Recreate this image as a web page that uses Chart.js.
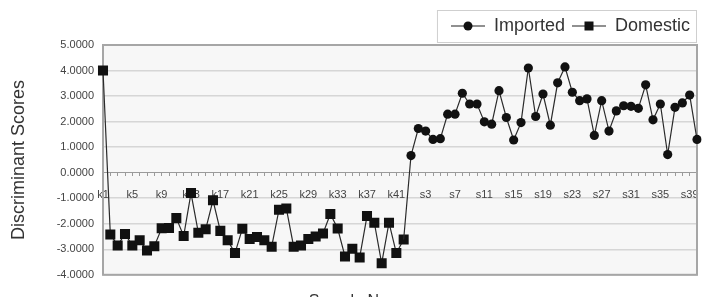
<!DOCTYPE html>
<html>
<head>
<meta charset="utf-8">
<script src="https://cdn.jsdelivr.net/npm/chart.js@4"></script>
<style>
  html, body { margin: 0; padding: 0; background: #fff; overflow: hidden; }
  #wrap { width: 710px; height: 311px; }
</style>
</head>
<body>
<div id="wrap"><canvas id="myChart" width="710" height="311"></canvas></div>
<script>
// sample ids
const domesticIds = [];
for (let i = 1; i <= 42; i++) domesticIds.push("k" + i);
const importedIds = [];
for (let i = 1; i <= 40; i++) importedIds.push("s" + i);
const labels = domesticIds.concat(importedIds);

// discriminant scores
const domestic = [
  4.00, -2.42, -2.85, -2.40, -2.85, -2.65, -3.05, -2.88, -2.18, -2.17,
  -1.78, -2.48, -0.80, -2.35, -2.22, -1.08, -2.28, -2.65, -3.15, -2.20,
  -2.60, -2.52, -2.65, -2.90, -1.45, -1.40, -2.90, -2.85, -2.60, -2.50,
  -2.38, -1.62, -2.19, -3.28, -2.98, -3.32, -1.70, -1.96, -3.55, -1.96,
  -3.15, -2.62
];
const imported = [
  0.67, 1.73, 1.63, 1.30, 1.33, 2.29, 2.29, 3.11, 2.69, 2.69,
  1.99, 1.90, 3.21, 2.16, 1.28, 1.96, 4.10, 2.20, 3.08, 1.86,
  3.52, 4.14, 3.15, 2.82, 2.89, 1.46, 2.82, 1.63, 2.42, 2.62,
  2.60, 2.52, 3.44, 2.07, 2.69, 0.71, 2.56, 2.73, 3.04, 1.30
];
const yTicks = [-4, -3, -2, -1, 0, 1, 2, 3, 4, 5];

const nK = domestic.length;
const domesticData = labels.map((l, i) => (i < nK ? domestic[i] : null));
// imported line starts from the last domestic point (joined in the original)
const importedData = labels.map((l, i) =>
  i < nK - 1 ? null : i === nK - 1 ? domestic[nK - 1] : imported[i - nK]
);

// legend icons: short line with a marker
function legendIcon(shape) {
  const c = document.createElement("canvas");
  c.width = 34;
  c.height = 12;
  const g = c.getContext("2d");
  g.strokeStyle = "#222";
  g.lineWidth = 1.2;
  g.beginPath();
  g.moveTo(0, 6);
  g.lineTo(34, 6);
  g.stroke();
  g.fillStyle = "#111";
  if (shape === "circle") {
    g.beginPath();
    g.arc(17, 6, 4.5, 0, Math.PI * 2);
    g.fill();
  } else {
    g.fillRect(12.5, 1.5, 9, 9);
  }
  return c;
}
const icons = { Imported: legendIcon("circle"), Domestic: legendIcon("rect") };

const plotFrame = {
  id: "plotFrame",
  beforeDraw(chart) {
    const { ctx, chartArea: a } = chart;
    ctx.save();
    ctx.fillStyle = "#f7f7f7";
    ctx.fillRect(a.left, a.top, a.right - a.left, a.bottom - a.top);
    ctx.restore();
  },
  beforeDatasetsDraw(chart) {
    const { ctx, chartArea: a } = chart;
    ctx.save();
    ctx.strokeStyle = "#a6a6a6";
    ctx.lineWidth = 2;
    ctx.strokeRect(a.left, a.top, a.right - a.left, a.bottom - a.top);
    ctx.restore();
  },
  afterDraw(chart) {
    const lg = chart.legend;
    if (!lg || !lg.legendHitBoxes.length) return;
    const boxes = lg.legendHitBoxes;
    const left = boxes[0].left - 14;
    const right = boxes[boxes.length - 1].left + boxes[boxes.length - 1].width + 6;
    const mid = boxes[0].top + boxes[0].height / 2;
    const { ctx } = chart;
    ctx.save();
    ctx.strokeStyle = "#cfcfcf";
    ctx.lineWidth = 1;
    ctx.strokeRect(left + 0.5, Math.round(mid - 16) + 0.5, right - left, 32);
    ctx.restore();
  },
};

const ctx = document.getElementById("myChart").getContext("2d");
const myChart = new Chart(ctx, {
  type: "line",
  data: {
    labels: labels,
    datasets: [
      {
        label: "Imported",
        data: importedData,
        borderColor: "#2a2a2a",
        backgroundColor: "#111",
        borderWidth: 1.2,
        pointStyle: "circle",
        pointRadius: (c) => (c.dataIndex < nK ? 0 : 4.6),
        pointBorderWidth: 0,
        tension: 0,
        spanGaps: false,
      },
      {
        label: "Domestic",
        data: domesticData,
        borderColor: "#2a2a2a",
        backgroundColor: "#111",
        borderWidth: 1.2,
        pointStyle: "rect",
        pointRadius: 7.1,
        pointBorderWidth: 0,
        tension: 0,
      },
    ],
  },
  options: {
    responsive: false,
    animation: false,
    layout: { padding: { left: 4, right: 13, top: 10, bottom: 0 } },
    plugins: {
      legend: {
        position: "top",
        align: "end",
        labels: {
          usePointStyle: true,
          pointStyleWidth: 34,
          padding: 7,
          color: "#333",
          font: { family: "Liberation Sans", size: 18 },
          generateLabels(chart) {
            const items = Chart.defaults.plugins.legend.labels.generateLabels(chart);
            items.forEach((it) => (it.pointStyle = icons[it.text]));
            return items;
          },
        },
      },
      title: {
        display: true,
        position: "bottom",
        text: "Sample No.",
        color: "#333",
        font: { family: "Liberation Sans", size: 16, weight: "normal" },
        padding: { top: 17, bottom: 0 },
      },
      tooltip: { enabled: false },
    },
    scales: {
      x: {
        type: "category",
        position: { y: 0 },
        offset: false,
        grid: {
          display: true,
          drawOnChartArea: false,
          drawTicks: true,
          tickLength: 3,
          color: "#9a9a9a",
        },
        border: { display: true, color: "#9a9a9a", dash: [2, 3], width: 1 },
        ticks: {
          autoSkip: false,
          maxRotation: 0,
          minRotation: 0,
          padding: 13,
          color: "#444",
          font: { family: "Liberation Sans", size: 11 },
          callback: (v, i) => (i % 4 === 0 ? labels[i] : ""),
        },
      },
      y: {
        min: yTicks[0],
        max: yTicks[yTicks.length - 1],
        afterFit(scale) {
          scale.width = 99;
        },
        afterBuildTicks(scale) {
          scale.ticks = yTicks.map((v) => ({ value: v }));
        },
        grid: {
          drawTicks: false,
          lineWidth: 1.5,
          color: (c) => (c.tick && c.tick.value === 0 ? "rgba(0,0,0,0)" : "#d6d6d6"),
        },
        border: { display: false },
        ticks: {
          padding: 9,
          color: "#444",
          font: { family: "Liberation Sans", size: 11 },
          callback: (v) => Number(v).toFixed(4),
        },
        title: {
          display: true,
          text: "Discriminant Scores",
          color: "#333",
          font: { family: "Liberation Sans", size: 18 },
          padding: { top: 4, bottom: 2 },
        },
      },
    },
  },
  plugins: [plotFrame],
});
</script>
</body>
</html>
